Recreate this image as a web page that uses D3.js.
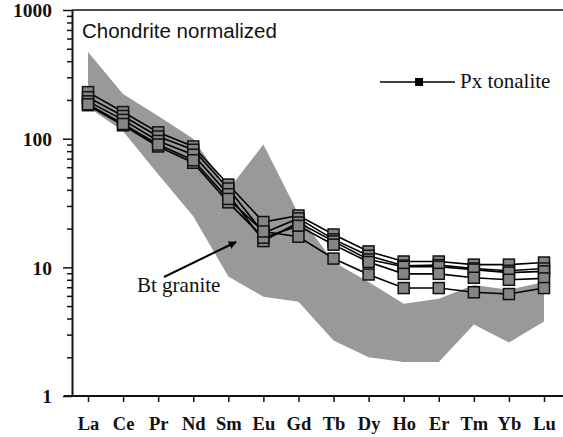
<!DOCTYPE html>
<html>
<head>
<meta charset="utf-8">
<script src="https://cdn.jsdelivr.net/npm/d3@7"></script>
<style>
	body { margin: 0; background: #fff; }
	svg { display: block; }
	.tick text { font-family: "Liberation Serif", "Times New Roman", serif; font-weight: bold; fill: #111; }
</style>
</head>
<body>
<div id="chart"></div>
<script>
const elements = ["La", "Ce", "Pr", "Nd", "Sm", "Eu", "Gd", "Tb", "Dy", "Ho", "Er", "Tm", "Yb", "Lu"];

// Bt granite field: upper and lower envelope
const graniteMax = [471, 222, 150, 100, 40, 90, 26, 11, 7.7, 5.2, 5.7, 7.3, 6.7, 7.7];
const graniteMin = [176, 114, 53, 25, 8.5, 5.9, 5.4, 2.7, 2.0, 1.84, 1.84, 3.6, 2.6, 3.8];

// Px tonalite samples
const tonalite1 = [230, 161, 112, 87, 44, 22.5, 25.3, 18, 13.3, 11.1, 11.1, 10.5, 10.5, 10.9];
const tonalite2 = [210, 150, 104, 82, 41, 18.5, 24, 16.5, 12.3, 10.3, 10.4, 9.8, 9.4, 9.8];
const tonalite3 = [195, 140, 96, 75, 37, 16, 22.3, 15.9, 11.5, 10.1, 10.1, 9.6, 9.1, 9.3];
const tonalite4 = [182, 127, 87, 65, 32, 17, 21, 15, 11, 8.9, 8.9, 8.3, 8.0, 8.2];
const tonalite5 = [185, 130, 90, 68, 34, 19, 17.3, 11.7, 8.8, 6.9, 6.9, 6.4, 6.2, 6.9];
const tonalites = [tonalite1, tonalite2, tonalite3, tonalite4, tonalite5];

const majorTicks = [1, 10, 100, 1000];

const W = 563, H = 437;
const plotL = 72, plotR = 563, plotT = 10, plotB = 396;
const serif = "Liberation Serif, Times New Roman, serif";

const svg = d3.select("#chart")
	.append("svg")
	.attr("width", W)
	.attr("height", H);

const x = d3.scalePoint()
	.domain(elements)
	.range([88, 544]);

const y = d3.scaleLog()
	.domain([1, 1000])
	.range([plotB, plotT]);

/*
 * 灰色区域：上包络线 + 反向的下包络线
 */
const fieldPts = elements.map((e, i) => [x(e), y(graniteMax[i])])
	.concat(elements.map((e, i) => [x(e), y(graniteMin[i])]).reverse());

svg.append("path")
	.attr("d", "M" + fieldPts.join("L") + "Z")
	.attr("fill", "#999");

// frame
svg.append("line")
	.attr("x1", plotL).attr("x2", plotR)
	.attr("y1", plotT).attr("y2", plotT)
	.attr("stroke", "#111").attr("stroke-width", 1.5);

// minor ticks
const minor = [];
for (let d = 1; d < 1000; d *= 10) {
	for (let k = 2; k <= 9; k++) minor.push(d * k);
}
svg.append("g")
	.attr("transform", "translate(" + plotL + ",0)")
	.call(d3.axisLeft(y).tickValues(minor).tickSize(5).tickFormat(""))
	.call(g => g.select(".domain").remove())
	.call(g => g.selectAll(".tick line").attr("stroke", "#111").attr("stroke-width", 1.5));

const yAxis = svg.append("g")
	.attr("transform", "translate(" + plotL + ",0)")
	.call(d3.axisLeft(y).tickValues(majorTicks).tickSize(9).tickSizeOuter(0).tickPadding(11).tickFormat(d3.format("d")));
yAxis.select(".domain").attr("stroke", "#111").attr("stroke-width", 2);
yAxis.selectAll(".tick line").attr("stroke", "#111").attr("stroke-width", 1.5);
yAxis.selectAll(".tick text").attr("font-size", 19.5).attr("dy", "0.35em");

const xAxis = svg.append("g")
	.attr("transform", "translate(0," + plotB + ")")
	.call(d3.axisBottom(x).tickSize(6).tickSizeOuter(0).tickPadding(15));
xAxis.select(".domain").attr("d", "M" + (plotL - 8) + ",0H" + plotR).attr("stroke", "#111").attr("stroke-width", 2);
xAxis.selectAll(".tick line").attr("stroke", "#111").attr("stroke-width", 1.5);
xAxis.selectAll(".tick text").attr("font-size", 18.5);

// tonalite lines
const line = d3.line()
	.x((d, i) => x(elements[i]))
	.y(d => y(d));

svg.selectAll(".sample")
	.data(tonalites)
	.enter()
	.append("path")
	.attr("class", "sample")
	.attr("d", line)
	.attr("fill", "none")
	.attr("stroke", "#000")
	.attr("stroke-width", 1.6);

tonalites.forEach(s => {
	svg.append("g")
		.selectAll("rect")
		.data(s)
		.enter()
		.append("rect")
		.attr("x", (d, i) => x(elements[i]) - 5.5)
		.attr("y", d => y(d) - 5.5)
		.attr("width", 11)
		.attr("height", 11)
		.attr("fill", "#858585")
		.attr("stroke", "#111")
		.attr("stroke-width", 1.5);
});

// texts
svg.append("text")
	.attr("x", 82).attr("y", 38)
	.attr("font-family", "Liberation Sans, Arial, sans-serif")
	.attr("font-size", 20.5)
	.attr("fill", "#111")
	.text("Chondrite normalized");

svg.append("line")
	.attr("x1", 380).attr("x2", 455)
	.attr("y1", 82).attr("y2", 82)
	.attr("stroke", "#000").attr("stroke-width", 1.5);
svg.append("rect")
	.attr("x", 415).attr("y", 78)
	.attr("width", 8).attr("height", 8)
	.attr("fill", "#000");
svg.append("text")
	.attr("x", 460).attr("y", 88)
	.attr("font-family", serif)
	.attr("font-size", 21)
	.attr("fill", "#111")
	.text("Px tonalite");

svg.append("text")
	.attr("x", 137).attr("y", 292)
	.attr("font-family", serif)
	.attr("font-size", 21)
	.attr("fill", "#111")
	.text("Bt granite");

svg.append("defs").append("marker")
	.attr("id", "head")
	.attr("viewBox", "0 0 10 10")
	.attr("refX", 9).attr("refY", 5)
	.attr("markerWidth", 8).attr("markerHeight", 8)
	.attr("markerUnits", "userSpaceOnUse")
	.attr("orient", "auto")
	.append("path")
	.attr("d", "M0,0L10,5L0,10Z")
	.attr("fill", "#000");

svg.append("line")
	.attr("x1", 164).attr("y1", 277)
	.attr("x2", 236).attr("y2", 242)
	.attr("stroke", "#000").attr("stroke-width", 2)
	.attr("marker-end", "url(#head)");
</script>
</body>
</html>
